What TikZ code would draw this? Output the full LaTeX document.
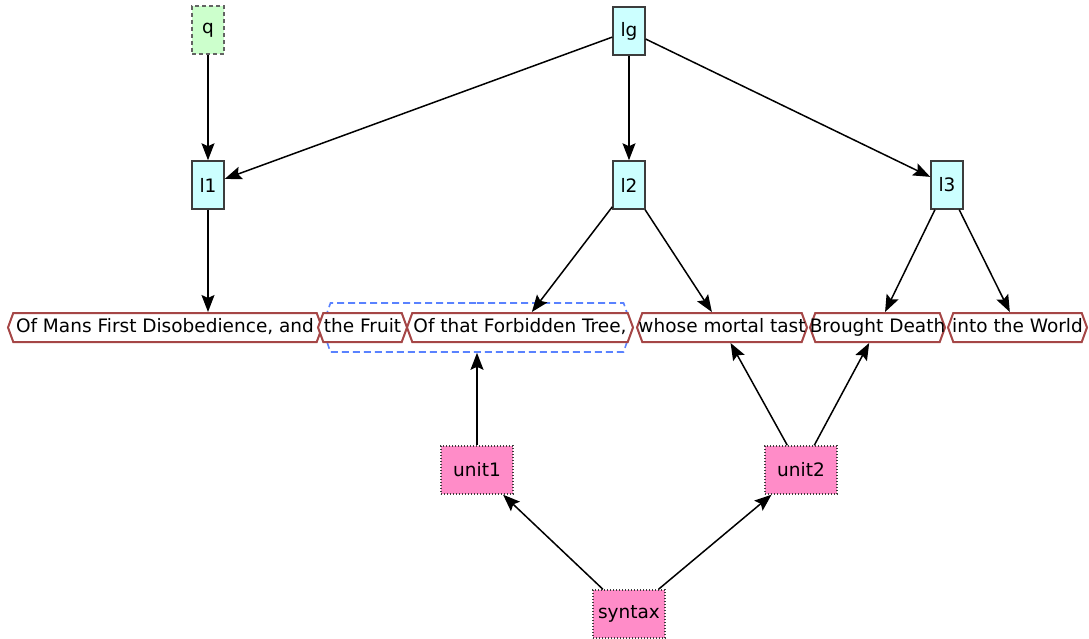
\documentclass[tikz,border=0pt]{standalone}
\usepackage{fontspec}
\setmainfont{DejaVu Sans}
\usetikzlibrary{shapes.symbols,arrows.meta}
\definecolor{elemfill}{RGB}{204,255,255}
\definecolor{qfill}{RGB}{204,255,204}
\definecolor{unitfill}{RGB}{255,140,200}
\definecolor{boxline}{RGB}{60,60,60}
\definecolor{segline}{RGB}{165,70,70}
\definecolor{grpblue}{RGB}{90,130,255}
\newcommand\segtext[1]{\makebox[0pt]{#1}}
\tikzset{
  elem/.style={rectangle, draw=boxline, fill=elemfill, line width=1.5pt,
    minimum width=32pt, minimum height=48pt, inner sep=0pt},
  qbox/.style={elem, fill=qfill, draw=boxline!80, dash pattern=on 4pt off 3pt},
  unitbox/.style={rectangle, draw=boxline, fill=unitfill, line width=1.4pt,
    dash pattern=on 1.3pt off 1.7pt, minimum width=72pt, minimum height=48pt, inner sep=0pt},
  seg/.style={signal, signal to=west and east, signal pointer angle=140,
    draw=segline, fill=white, line width=2pt, minimum height=29pt,
    inner xsep=0pt, inner ysep=0pt, text height=13.5pt, text depth=4pt},
  grp/.style={signal, signal to=west and east, signal pointer angle=142,
    draw=grpblue, dash pattern=on 7pt off 4pt, line width=1.6pt, minimum width=310pt,
    minimum height=49pt, inner sep=0pt},
  arr/.style={-{Stealth[length=17pt,width=13pt,inset=3pt]}, line width=1.5pt, black},
}
\begin{document}
\begin{tikzpicture}[x=1pt,y=-1pt,font=\fontsize{18.5}{22}\selectfont]
\useasboundingbox (0,0) rectangle (1089,639);

% group around the two segments
\node[grp] (grp) at (477,327.5) {};

% element hierarchy
\node[qbox] (q) at (208,30) {q};
\node[elem] (lg) at (629,31) {lg};
\node[elem] (l1) at (208,185) {l1};
\node[elem] (l2) at (629,185) {l2};
\node[elem] (l3) at (947,185) {l3};

% text segments
\node[seg, minimum width=314pt] (t1) at (165,327.5) {\segtext{Of Mans First Disobedience, and}};
\node[seg, minimum width=89pt] (t2) at (362.5,327.5) {\segtext{the Fruit}};
\node[seg, minimum width=226pt] (t3) at (520,327.5) {\segtext{Of that Forbidden Tree,}};
\node[seg, minimum width=170pt] (t4) at (722,327.5) {\segtext{whose mortal tast}};
\node[seg, minimum width=135pt] (t5) at (877.5,327.5) {\segtext{Brought Death}};
\node[seg, minimum width=139pt] (t6) at (1017.5,327.5) {\segtext{into the World}};

% syntax units
\node[unitbox] (u1) at (477,470) {unit1};
\node[unitbox] (u2) at (801,470) {unit2};
\node[unitbox] (syn) at (629,614) {syntax};

% connectors
\draw[arr] (q) -- (l1);
\draw[arr] (lg) -- (l1);
\draw[arr] (lg) -- (l2);
\draw[arr] (lg) -- (l3);
\draw[arr] (l1.south) -- (l1.south |- t1.north);
\draw[arr] (l2) -- (t3);
\draw[arr] (l2) -- (t4);
\draw[arr] (l3) -- (t5);
\draw[arr] (l3) -- (t6);
\draw[arr] (u1) -- (grp);
\draw[arr] (u2) -- (t4);
\draw[arr] (u2) -- (t5);
\draw[arr] (syn) -- (u1);
\draw[arr] (syn) -- (u2);
\end{tikzpicture}
\end{document}
